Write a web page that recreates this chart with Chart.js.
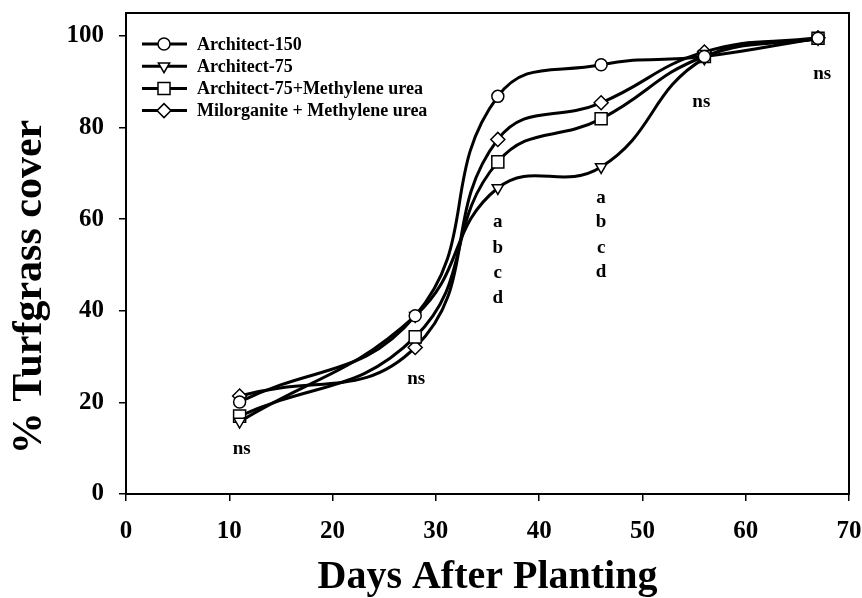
<!DOCTYPE html>
<html>
<head>
<meta charset="utf-8">
<script src="https://cdn.jsdelivr.net/npm/chart.js@4.4.1/dist/chart.umd.min.js"></script>
<style>
html,body{margin:0;padding:0;background:#fff;}
#wrap{width:862px;height:598px;position:relative;}
</style>
</head>
<body>
<div id="wrap"><canvas id="cover"></canvas></div>
<script>
const days=[11,28,36,46,56,67];
const arch150=[20.1,38.9,86.8,93.7,95.5,99.5];
const arch75=[15.8,38.9,66.8,71.4,95.1,99.4];
const arch75mu=[17.0,34.3,72.5,81.9,95.5,99.5];
const milorg=[21.4,32.0,77.4,85.4,96.5,99.6];

const seriesNames=['Architect-150','Architect-75','Architect-75+Methylene urea','Milorganite + Methylene urea'];
const seriesValues=[arch150,arch75,arch75mu,milorg];
const markers=['circle','triangle','rect','rectRot'];
const markerSize=[6,6.5,8.5,7];
const markerTurn=[0,180,0,0];

const xTicks=[0,10,20,30,40,50,60,70];
const yTicks=[0,20,40,60,80,100];

// mean separation letters per sampling date
const noteX=[11.2,28.1,36,36,36,36,46,46,46,46,55.7,67.4];
const noteY=[9.7,25,59.3,53.7,48.2,42.8,64.6,59.3,53.7,48.4,85.5,91.7];
const noteText=['ns','ns','a','b','c','d','a','b','c','d','ns','ns'];

const SERIF='"Liberation Serif","Times New Roman",serif';

const frame={
  id:'frame',
  afterDatasetsDraw(chart){
    const {ctx,chartArea:a}=chart;
    ctx.save();
    ctx.strokeStyle='#000'; ctx.lineWidth=2;
    ctx.strokeRect(a.left,a.top,a.right-a.left,a.bottom-a.top);
    ctx.restore();
  }
};

const notes={
  id:'notes',
  afterDatasetsDraw(chart){
    const {ctx,scales:{x,y}}=chart;
    ctx.save();
    ctx.fillStyle='#000';
    ctx.font='bold 19px '+SERIF;
    ctx.textAlign='center'; ctx.textBaseline='middle';
    noteText.forEach((t,i)=>ctx.fillText(t,x.getPixelForValue(noteX[i]),y.getPixelForValue(noteY[i])));
    ctx.restore();
  }
};

// axis titles: y title sits a bit below the middle of the axis
const axisTitles={
  id:'axisTitles',
  afterDraw(chart){
    const {ctx,chartArea:a}=chart;
    ctx.save();
    ctx.fillStyle='#000';
    ctx.font='bold 40px '+SERIF;
    ctx.textAlign='center'; ctx.textBaseline='alphabetic';
    ctx.fillText('Days After Planting',(a.left+a.right)/2,588);
    ctx.translate(30,287);
    ctx.rotate(-Math.PI/2);
    ctx.font='bold 42px '+SERIF;
    ctx.textBaseline='middle';
    ctx.fillText('% Turfgrass cover',0,0);
    ctx.restore();
  }
};

// legend drawn inside the plot: line with the marker in the middle
const keyBox={
  id:'keyBox',
  afterDraw(chart){
    const {ctx,chartArea:a}=chart;
    ctx.save();
    chart.data.datasets.forEach((ds,i)=>{
      const y=a.top+31+i*22.2, x0=a.left+16;
      ctx.strokeStyle='#000'; ctx.lineWidth=3;
      ctx.beginPath(); ctx.moveTo(x0,y); ctx.lineTo(x0+45,y); ctx.stroke();
      ctx.fillStyle='#fff'; ctx.lineWidth=1.5;
      Chart.helpers.drawPoint(ctx,{pointStyle:ds.pointStyle,radius:ds.pointRadius,rotation:ds.pointRotation,borderWidth:1.5},x0+22,y);
      ctx.fillStyle='#000';
      ctx.font='bold 18px '+SERIF;
      ctx.textAlign='left'; ctx.textBaseline='middle';
      ctx.fillText(ds.label,x0+55,y+1);
    });
    ctx.restore();
  }
};

function noPad(s){ s.paddingTop=s.paddingBottom=s.paddingLeft=s.paddingRight=0; }

const datasets=seriesNames.map((name,i)=>({
  label:name,
  data:days.map((d,j)=>({x:d,y:seriesValues[i][j]})),
  borderColor:'#000',
  borderWidth:3,
  tension:0.45,
  pointStyle:markers[i],
  pointRadius:markerSize[i],
  pointRotation:markerTurn[i],
  pointBackgroundColor:'#fff',
  pointBorderColor:'#000',
  pointBorderWidth:1.5,
  fill:false
}));

new Chart(document.getElementById('cover'),{
  type:'line',
  data:{datasets},
  options:{
    responsive:true,
    maintainAspectRatio:false,
    animation:false,
    layout:{padding:{left:0,right:13,top:13,bottom:0}},
    plugins:{legend:{display:false},tooltip:{enabled:false}},
    scales:{
      x:{
        type:'linear',min:0,max:70,
        afterBuildTicks(s){ s.ticks=xTicks.map(v=>({value:v})); },
        afterFit(s){ s.height=104; noPad(s); },
        grid:{drawOnChartArea:false,drawTicks:true,tickLength:7,color:'#000',lineWidth:1.5},
        border:{display:true,color:'#000',width:2},
        ticks:{color:'#000',padding:18,maxRotation:0,font:{family:SERIF,size:25,weight:'bold',lineHeight:1}},
        title:{display:false}
      },
      y:{
        type:'linear',min:0,max:105,
        afterBuildTicks(s){ s.ticks=yTicks.map(v=>({value:v})); },
        afterFit(s){ s.width=126; noPad(s); },
        grid:{drawOnChartArea:false,drawTicks:true,tickLength:7,color:'#000',lineWidth:1.5},
        border:{display:true,color:'#000',width:2},
        ticks:{color:'#000',padding:15,font:{family:SERIF,size:25,weight:'bold',lineHeight:1}},
        title:{display:false}
      }
    }
  },
  plugins:[frame,notes,axisTitles,keyBox]
});
</script>
</body>
</html>
